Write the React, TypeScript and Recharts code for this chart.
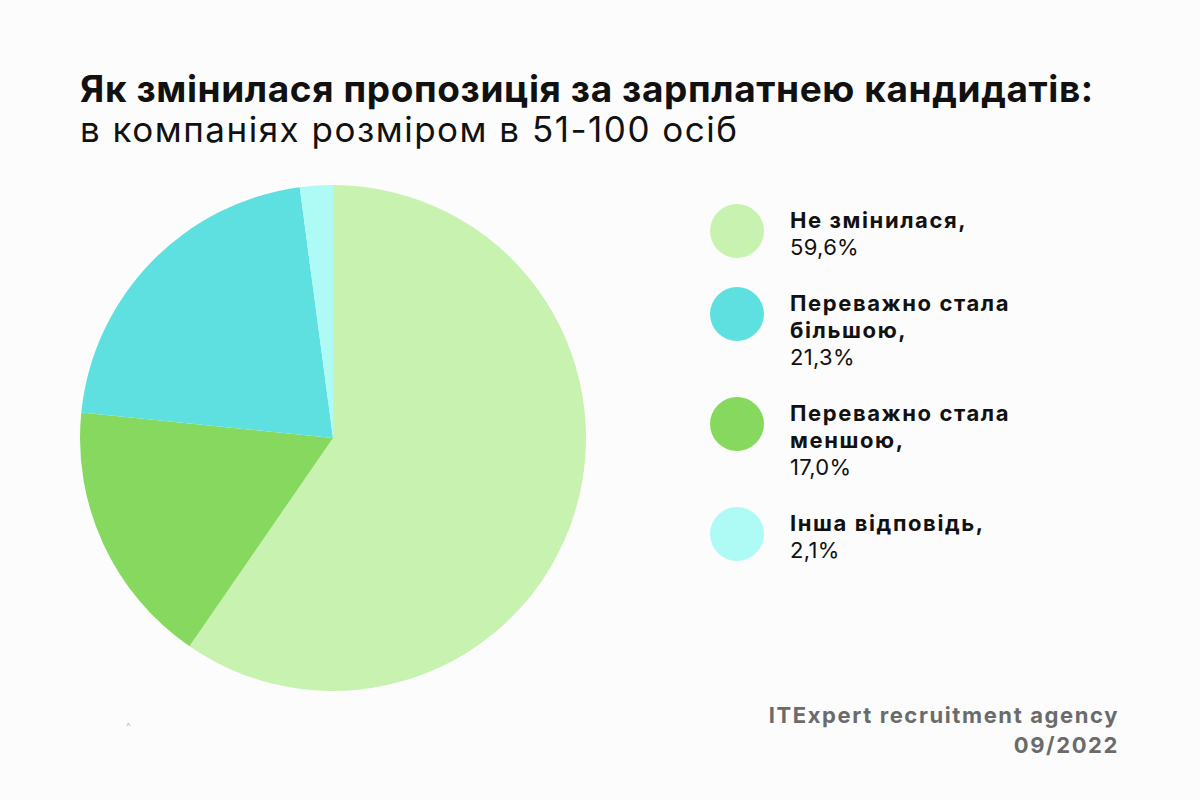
import { Cell, Pie, PieChart } from 'recharts';

// slices in clockwise order from 12 o'clock
const sliceNames = ['Не змінилася', 'Переважно стала меншою', 'Переважно стала більшою', 'Інша відповідь'];
const sliceValues = [59.6, 17.0, 21.3, 2.1];
const sliceColors = ['#c8f2b0', '#86d95e', '#5fe0e0', '#aefaf5'];

// legend order differs from slice order
const legendLines = [
	['Не змінилася,'],
	['Переважно стала', 'більшою,'],
	['Переважно стала', 'меншою,'],
	['Інша відповідь,'],
];
const legendValues = ['59,6%', '21,3%', '17,0%', '2,1%'];
const legendColors = ['#c8f2b0', '#5fe0e0', '#86d95e', '#aefaf5'];

const data = sliceNames.map((name, i) => ({ name, value: sliceValues[i] }));

const font = 'Inter, "Noto Sans", sans-serif';

const App = () => {
	return (
		<div
			style={{
				position: 'absolute',
				left: 0,
				top: 0,
				width: 1200,
				height: 800,
				background: '#fcfcfc',
				fontFamily: font,
				color: '#111',
				overflow: 'hidden',
			}}
		>
			<div style={{ position: 'absolute', left: 80, top: 69, whiteSpace: 'nowrap' }}>
				<div style={{ fontSize: 37, fontWeight: 700, lineHeight: '40px', letterSpacing: 0.6 }}>
					Як змінилася пропозиція за зарплатнею кандидатів:
				</div>
				<div style={{ fontSize: 35, fontWeight: 400, lineHeight: '40px', letterSpacing: 1.5 }}>
					в компаніях розміром в 51-100 осіб
				</div>
			</div>

			<div style={{ position: 'absolute', left: 0, top: 0 }}>
				<PieChart width={1200} height={800} margin={{ top: 0, right: 0, bottom: 0, left: 0 }}>
					<Pie
						data={data}
						dataKey='value'
						cx={333}
						cy={438}
						outerRadius={253}
						startAngle={90}
						endAngle={-270}
						stroke='none'
						isAnimationActive={false}
					>
						{data.map((d, i) => (
							<Cell key={d.name} fill={sliceColors[i]} />
						))}
					</Pie>
				</PieChart>
			</div>

			<div
				style={{
					position: 'absolute',
					left: 710,
					top: 207,
					display: 'flex',
					flexDirection: 'column',
					gap: 29,
				}}
			>
				{legendLines.map((lines, i) => (
					<div key={i} style={{ display: 'flex', alignItems: 'flex-start' }}>
						<div
							style={{
								width: 54,
								height: 54,
								borderRadius: 27,
								background: legendColors[i],
								marginTop: -3,
								flexShrink: 0,
							}}
						/>
						<div style={{ marginLeft: 26, fontSize: 22, lineHeight: '27px', whiteSpace: 'nowrap' }}>
							{lines.map((l) => (
								<div key={l} style={{ fontWeight: 700, letterSpacing: 1.6 }}>
									{l}
								</div>
							))}
							<div style={{ letterSpacing: 0.3 }}>{legendValues[i]}</div>
						</div>
					</div>
				))}
			</div>

			<div
				style={{
					position: 'absolute',
					right: 81,
					top: 700,
					textAlign: 'right',
					color: '#6b6b6b',
					fontSize: 22,
					fontWeight: 700,
					lineHeight: '30px',
					letterSpacing: 1.6,
					whiteSpace: 'nowrap',
				}}
			>
				<div>ITExpert recruitment agency</div>
				<div>09/2022</div>
			</div>

			<div style={{ position: 'absolute', left: 126, top: 720, fontSize: 10, color: '#bbb' }}>^</div>
		</div>
	);
};

export default App;
